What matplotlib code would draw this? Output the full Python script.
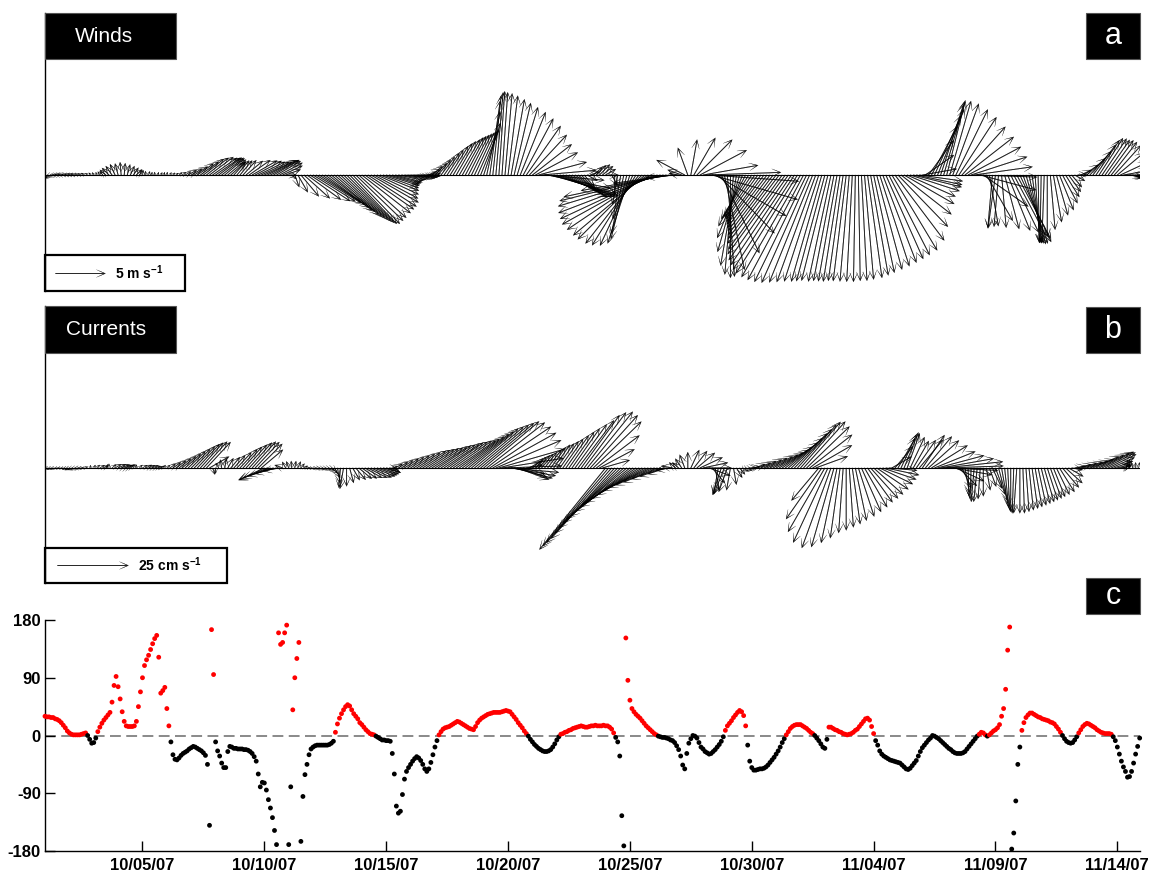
import numpy as np
import matplotlib
matplotlib.use('Agg')
import matplotlib.pyplot as plt
from matplotlib.patches import Rectangle

plt.rcParams['font.family'] = ['Liberation Sans', 'DejaVu Sans']
plt.rcParams['mathtext.fontset'] = 'custom'
plt.rcParams['mathtext.rm'] = 'Liberation Sans'
plt.rcParams['mathtext.bf'] = 'Liberation Sans:bold'

# ---------------- data (3-hourly vectors from 10/01/07 00:00) ----------------
# wind speed (m/s), one row per day (8 values, every 3 h)
wind_speed = [
    0.8, 0.8, 0.7, 0.6, 0.6, 0.6, 0.6, 0.5,
    0.5, 0.5, 0.5, 0.4, 0.4, 0.4, 0.3, 0.3,
    0.3, 0.3, 0.4, 0.5, 0.8, 1.0, 1.1, 1.2,
    1.2, 1.3, 1.2, 1.1, 1.0, 0.9, 0.8, 0.6,
    0.5, 0.4, 0.4, 0.3, 0.3, 0.3, 0.3, 0.3,
    0.3, 0.3, 0.3, 0.3, 0.4, 0.5, 0.7, 1.0,
    1.3, 1.6, 2.0, 2.3, 2.6, 2.8, 3.0, 3.0,
    3.0, 2.9, 2.8, 2.6, 2.4, 2.0, 1.8, 1.9,
    1.9, 2.0, 2.2, 2.6, 2.9, 3.0, 3.0, 3.1,
    3.1, 3.2, 3.2, 3.0, 2.8, 2.6, 2.2, 1.6,
    0.8, 0.6, 1.3, 2.0, 2.8, 3.5, 4.2, 4.8,
    5.0, 5.3, 5.5, 5.7, 5.9, 6.0, 6.2, 6.3,
    6.4, 6.5, 6.6, 6.7, 6.8, 6.8, 6.6, 6.4,
    6.2, 6.0, 5.8, 5.5, 5.0, 4.6, 4.2, 3.8,
    3.5, 3.2, 3.0, 2.8, 2.6, 2.5, 2.4, 2.3,
    2.3, 2.2, 2.1, 2.0, 1.8, 1.5, 1.3, 1.4,
    1.7, 2.0, 2.3, 2.7, 3.0, 3.4, 3.7, 3.9,
    4.1, 4.3, 4.4, 4.5, 4.6, 4.7, 4.8, 4.9,
    5.5, 6.5, 7.5, 8.0, 8.3, 8.4, 8.3, 8.2,
    8.0, 7.7, 7.4, 7.1, 6.8, 6.4, 6.0, 5.5,
    5.0, 4.8, 5.0, 5.5, 6.0, 6.5, 6.8, 6.8,
    6.2, 5.7, 5.2, 4.7, 4.1, 3.5, 3.0, 2.5,
    2.0, 1.6, 1.2, 1.0, 1.2, 1.4, 1.5, 1.4,
    1.2, 1.0, 1.2, 2.0, 3.0, 4.5, 6.0, 6.6,
    7.2, 7.8, 8.3, 8.7, 9.1, 9.4, 9.8, 10.2,
    10.4, 10.6, 10.7, 10.7, 10.5, 9.0, 6.0, 3.0,
    1.0, 1.5, 3.2, 2.9, 3.6, 4.3, 5.0, 5.3,
    5.6, 7.5, 9.0, 8.9, 8.2, 8.1, 8.7, 9.7,
    10.2, 10.3, 10.0, 9.2, 8.0, 6.8, 5.8, 5.2,
    5.0, 5.2, 5.5, 5.8, 6.2, 6.6, 7.0, 7.5,
    8.0, 8.6, 9.2, 9.8, 10.4, 10.9, 11.3, 11.6,
    11.8, 11.9, 11.9, 11.8, 11.6, 11.4, 11.2, 11.1,
    11.0, 10.9, 10.9, 10.8, 10.8, 10.8, 10.7, 10.7,
    10.7, 10.7, 10.7, 10.6, 10.6, 10.5, 10.4, 10.2,
    10.0, 9.8, 9.6, 9.4, 9.2, 9.0, 8.8, 8.2,
    7.2, 6.4, 5.8, 5.3, 5.2, 5.0, 4.7, 4.4,
    3.5, 3.5, 4.3, 5.5, 6.5, 7.1, 7.4, 7.6,
    7.7, 7.7, 7.6, 7.3, 6.9, 6.5, 6.2, 6.0,
    5.9, 5.9, 6.0, 5.8, 5.5, 5.3, 5.2, 5.3,
    5.4, 5.2, 5.3, 5.6, 6.0, 6.4, 6.8, 7.2,
    7.4, 7.3, 7.2, 7.0, 6.9, 6.8, 6.8, 6.8,
    6.8, 6.2, 5.5, 4.8, 4.2, 3.8, 3.2, 2.6,
    2.1, 1.6, 1.2, 1.0, 1.2, 1.8, 2.5, 3.2,
    3.8, 4.2, 4.4, 4.4, 4.3, 4.3, 4.2, 4.0,
    3.5, 3.0, 2.5, 2.0, 1.5, 1.0, 0.6, 0.5,
]
# wind direction the arrow points to (deg, counter-clockwise from east)
wind_dir = [
    220, 215, 205, 190, 180, 175, 170, 170,
    170, 165, 165, 160, 160, 150, 140, 130,
    120, 110, 120, 130, 140, 135, 125, 115,
    105, 95, 85, 75, 65, 55, 45, 60,
    80, 90, 70, 80, 90, 70, 60, 70,
    80, 60, 50, 40, 40, 35, 30, 30,
    30, 32, 35, 36, 38, 38, 37, 35,
    35, 37, 38, 40, 40, 42, 48, 50,
    50, 48, 40, 35, 30, 28, 26, 25,
    25, 27, 28, 30, 30, 28, 25, 20,
    0, -40, -70, -60, -50, -42, -36, -33,
    -32, -32, -33, -35, -37, -38, -40, -41,
    -42, -43, -44, -45, -46, -46, -44, -42,
    -38, -35, -33, -30, -28, -25, -22, -20,
    -18, -17, -16, -15, -12, -10, -8, -7,
    -6, -6, -5, -4, -3, 5, 25, 40,
    45, 50, 53, 55, 57, 58, 59, 60,
    60, 61, 62, 63, 64, 65, 66, 68,
    72, 78, 82, 84, 85, 86, 86, 85,
    83, 80, 77, 73, 68, 62, 55, 47,
    38, 28, 15, 5, -5, -12, -16, -18,
    -20, -22, -25, -28, -30, -32, -35, -40,
    -45, -50, -30, 20, 40, 45, 45, 40,
    30, 0, -60, -90, -100, -100, -102, -104,
    -108, -115, -122, -128, -135, -140, -146, -151,
    -155, -159, -163, -166, -168, -170, -172, -175,
    170, 160, 152, 110, 80, 60, 45, 28,
    10, 2, -4, -16, -30, -46, -64, -78,
    -86, -90, -95, -100, -106, -112, -118, -122,
    -124, -125, -126, -126, -127, -127, -127, -127,
    -127, -127, -126, -126, -125, -124, -123, -122,
    -120, -118, -116, -114, -112, -110, -108, -106,
    -105, -104, -102, -101, -100, -99, -98, -97,
    -95, -93, -91, -89, -87, -85, -82, -80,
    -78, -75, -72, -69, -66, -63, -59, -53,
    -46, -38, -30, -24, -18, -14, -12, -8,
    10, 35, 54, 62, 66, 68, 72, 74,
    76, 74, 70, 64, 57, 48, 38, 28,
    18, 8, -2, -15, -35, -60, -80, -95,
    -98, -95, -85, -75, -68, -64, -62, -62,
    -65, -70, -74, -78, -82, -86, -89, -91,
    -92, -90, -85, -80, -74, -68, -62, -58,
    -54, -50, -30, 0, 25, 35, 42, 48,
    53, 56, 57, 56, 55, 54, 52, 48,
    40, 25, 10, 0, -10, -20, -30, -40,
]
# current speed (cm/s), one row per day (8 values, every 3 h)
curr_speed = [
    1.5, 1.5, 1.5, 1.5, 1.2, 1.2, 1.2, 1.5,
    1.8, 2.0, 2.0, 1.8, 1.5, 1.2, 1.0, 1.0,
    1.2, 1.5, 2.0, 2.0, 1.5, 1.5, 2.0, 2.5,
    3.0, 3.2, 3.0, 2.5, 2.0, 1.5, 1.2, 1.5,
    2.0, 2.5, 2.5, 2.5, 2.2, 1.8, 1.5, 1.2,
    1.5, 2.5, 3.5, 4.5, 5.5, 6.5, 7.5, 8.5,
    9.5, 10.5, 11.5, 12.0, 12.5, 12.5, 8.0, 2.5,
    2.0, 2.0, 3.0, 3.5, 4.0, 5.0, 6.0, 7.5,
    9.0, 10.0, 11.0, 12.0, 12.5, 12.5, 12.0, 10.0,
    10.0, 11.0, 10.5, 9.5, 8.0, 6.0, 3.0, 2.5,
    2.5, 2.5, 2.5, 2.5, 2.0, 1.5, 1.2, 1.2,
    1.5, 1.8, 2.0, 2.0, 2.2, 2.5, 3.0, 4.0,
    5.5, 7.0, 7.5, 6.5, 5.5, 5.0, 5.5, 6.0,
    6.5, 7.0, 7.5, 8.0, 8.0, 7.5, 7.0, 6.5,
    5.0, 3.0, 2.0, 3.0, 4.0, 5.0, 6.0, 7.0,
    8.0, 9.0, 10.0, 11.0, 11.5, 12.0, 12.5, 13.0,
    13.5, 14.0, 14.5, 15.0, 15.5, 16.0, 16.5, 17.0,
    17.5, 18.5, 19.5, 20.5, 21.5, 22.5, 23.5, 24.5,
    25.5, 26.0, 26.0, 25.5, 25.0, 24.0, 22.0, 20.0,
    18.0, 16.0, 14.0, 12.0, 10.0, 8.0, 6.0, 5.0,
    5.0, 5.5, 6.0, 6.5, 7.0, 8.0, 9.0, 10.0,
    10.5, 11.5, 12.5, 14.0, 15.5, 17.0, 19.0, 21.0,
    23.0, 24.5, 25.5, 25.0, 23.5, 19.0, 14.0, 10.0,
    37.0, 36.0, 35.0, 33.5, 32.0, 30.5, 29.0, 28.0,
    27.0, 25.5, 24.0, 22.5, 21.0, 19.5, 18.0, 16.5,
    15.0, 13.0, 11.0, 9.0, 7.0, 5.0, 4.0, 3.0,
    3.0, 4.0, 5.0, 5.6, 7.0, 7.6, 8.3, 8.8,
    9.0, 9.0, 8.0, 7.0, 8.0, 9.5, 10.0, 10.0,
    9.0, 8.0, 6.0, 4.0, 3.0, 2.5, 2.5, 3.0,
    3.0, 4.0, 5.0, 6.0, 7.0, 8.0, 9.0, 10.0,
    11.0, 12.0, 13.0, 14.5, 16.0, 17.5, 19.0, 20.5,
    21.5, 22.0, 21.0, 19.0, 16.0, 12.0, 15.0, 22.0,
    26.0, 29.0, 30.0, 29.0, 27.0, 25.0, 23.0, 22.0,
    21.0, 20.0, 19.0, 18.0, 17.0, 16.0, 15.0, 14.5,
    14.0, 13.5, 13.0, 12.5, 12.0, 10.0, 8.0, 10.0,
    12.0, 13.0, 13.5, 13.0, 12.0, 11.0, 12.0, 13.0,
    14.0, 14.5, 14.5, 15.0, 15.5, 17.0, 19.0, 21.0,
    20.0, 17.0, 14.0, 11.0, 9.0, 8.0, 9.0, 10.0,
    11.0, 12.0, 12.0, 11.0, 10.0, 8.0, 7.0, 8.0,
    10.0, 12.0, 13.0, 14.0, 15.0, 15.5, 16.0, 16.0,
    16.0, 16.0, 15.5, 15.0, 14.5, 14.0, 13.5, 13.0,
    12.5, 12.0, 11.5, 11.0, 10.5, 10.0, 9.0, 8.0,
    6.0, 4.0, 4.0, 5.0, 6.0, 7.0, 8.0, 9.0,
    10.0, 11.0, 12.0, 12.5, 12.0, 11.0, 9.0, 7.0,
    5.0, 4.0, 3.0, 3.0, 3.0, 2.0, 2.0, 2.0,
]
curr_dir = [
    190, 195, 200, 195, 190, 185, 190, 200,
    205, 200, 195, 190, 185, 180, 150, 100,
    60, 45, 30, 20, 60, 90, 40, 30,
    25, 22, 20, 25, 40, 60, 90, 45,
    30, 25, 22, 20, 18, 15, 30, 60,
    40, 35, 35, 36, 38, 40, 42, 44,
    45, 46, 47, 48, 48, 47, 30, -70,
    -90, 120, 100, 80, 60, 50, 48, 47,
    47, 48, 48, 48, 48, 47, 45, 40,
    205, 203, 200, 198, 195, 190, 160, 120,
    110, 95, 80, 65, 50, 30, 0, -10,
    -10, -10, -15, -15, -15, -20, -40, -60,
    -80, -95, -100, -90, -75, -60, -50, -40,
    -35, -30, -27, -25, -22, -20, -18, -15,
    -15, -10, 20, 30, 32, 33, 33, 33,
    33, 33, 33, 33, 33, 33, 33, 33,
    33, 34, 34, 34, 35, 35, 35, 35,
    36, 37, 38, 39, 40, 40, 40, 40,
    40, 38, 34, 29, 23, 16, 9, 2,
    -5, -10, -15, -20, -20, -15, 10, 30,
    40, 45, 48, 50, 52, 53, 54, 55,
    55, 55, 55, 55, 55, 55, 54, 53,
    54, 53, 51, 48, 44, 37, 28, 16,
    231, 230, 229, 228, 226, 224, 222, 220,
    219, 217, 215, 213, 211, 209, 207, 205,
    204, 203, 201, 200, 198, 190, 170, 140,
    140, 125, 111, 90, 65, 52, 40, 25,
    12, 0, -20, -50, -80, -100, -108, -112,
    -110, -100, -80, -60, -50, -30, -20, 0,
    10, 20, 22, 24, 25, 26, 27, 28,
    30, 32, 35, 38, 41, 44, 46, 48,
    49, 48, 44, 38, 30, 20, 230, 235,
    240, 245, 250, 254, 258, 262, 266, 270,
    274, 278, 282, 288, 294, 300, 306, 312,
    318, 326, 334, 341, 348, 355, 30, 50,
    60, 65, 68, 70, 65, 60, 55, 50,
    56, 50, 42, 32, 22, 15, 10, 6,
    2, -3, -10, -25, -45, -65, -80, -88,
    -92, -95, -96, -94, -90, -80, -70, -65,
    -70, -75, -80, -84, -87, -90, -92, -94,
    -90, -88, -86, -84, -82, -80, -78, -76,
    -74, -72, -70, -68, -64, -58, -50, -42,
    -30, -10, 10, 15, 17, 18, 19, 20,
    24, 25, 26, 27, 27, 26, 24, 20,
    15, 10, 20, 80, 90, 100, 90, 80,
]
# panel c: angle (deg), every 2 h, one row per day (12 values)
angle = [
    30, 29, 29, 28, 28, 26, 25, 23, 20, 16, 12, 7,
    4, 2, 1, 1, 1, 1, 2, 3, 4, 0, -6, -12,
    -11, -4, 6, 13, 19, 24, 28, 32, 36, 52, 78, 92,
    76, 57, 37, 22, 15, 14, 14, 14, 15, 22, 45, 68,
    90, 109, 118, 125, 134, 143, 151, 156, 122, 66, 70, 75,
    42, 15, -10, -30, -37, -38, -35, -31, -28, -26, -24, -21,
    -19, -17, -18, -20, -22, -24, -27, -31, -45, -140, 165, 95,
    -10, -24, -32, -43, -50, -50, -25, -17, -18, -20, -20, -21,
    -21, -21, -22, -22, -23, -25, -28, -33, -40, -60, -80, -73,
    -74, -85, -100, -113, -128, -148, -170, 160, 142, 145, 160, 172,
    -170, -80, 40, 90, 120, 145, -165, -95, -61, -45, -30, -21,
    -18, -16, -15, -15, -15, -15, -15, -15, -14, -12, -9, 5,
    18, 27, 34, 40, 45, 48, 46, 40, 34, 30, 26, 20,
    17, 13, 9, 6, 3, 2, 1, -1, -3, -5, -7, -7,
    -8, -8, -9, -28, -60, -110, -121, -118, -92, -68, -56, -50,
    -45, -40, -36, -33, -35, -39, -45, -52, -56, -52, -42, -30,
    -18, -8, 1, 6, 10, 12, 13, 14, 16, 18, 20, 22,
    21, 19, 17, 15, 13, 11, 10, 9, 14, 20, 24, 27,
    29, 31, 33, 34, 35, 36, 36, 36, 36, 37, 38, 39,
    38, 37, 33, 29, 25, 20, 16, 12, 7, 3, -1, -6,
    -10, -14, -17, -20, -22, -24, -25, -25, -24, -22, -18, -13,
    -7, -2, 2, 3, 5, 6, 8, 9, 11, 12, 13, 14,
    15, 14, 13, 13, 14, 15, 15, 16, 15, 15, 15, 16,
    15, 15, 13, 10, 4, -3, -10, -32, -125, -172, 152, 86,
    55, 42, 37, 33, 30, 27, 23, 19, 15, 12, 9, 6,
    3, 1, -1, -2, -3, -3, -4, -5, -7, -8, -11, -16,
    -22, -32, -46, -52, -28, -12, -5, 0, -1, -4, -11, -18,
    -21, -25, -27, -29, -28, -25, -22, -18, -14, -9, -2, 8,
    15, 19, 23, 28, 32, 36, 39, 37, 31, 15, -15, -40,
    -50, -54, -54, -53, -52, -52, -51, -49, -46, -42, -38, -34,
    -29, -24, -18, -11, -5, 1, 6, 11, 14, 16, 17, 17,
    17, 15, 13, 11, 8, 5, 3, 0, -4, -8, -13, -18,
    -20, -6, 13, 13, 11, 9, 8, 6, 5, 3, 2, 1,
    2, 3, 5, 8, 10, 14, 18, 22, 26, 27, 24, 14,
    3, -8, -15, -24, -29, -32, -34, -36, -38, -39, -40, -41,
    -42, -43, -46, -49, -52, -53, -51, -47, -43, -39, -32, -25,
    -19, -15, -11, -7, -4, 0, -1, -3, -5, -8, -11, -14,
    -17, -20, -22, -25, -27, -28, -28, -28, -27, -25, -21, -17,
    -13, -9, -5, -1, 2, 5, 4, 1, -1, 1, 4, 7,
    9, 12, 17, 30, 42, 72, 133, 169, -177, -152, -102, -45,
    -18, 8, 20, 28, 32, 35, 35, 33, 31, 29, 28, 26,
    25, 24, 23, 21, 20, 18, 14, 10, 5, 0, -5, -9,
    -11, -12, -11, -7, -2, 4, 9, 14, 17, 19, 18, 16,
    14, 12, 9, 7, 5, 4, 3, 3, 3, 2, -2, -8,
    -18, -29, -40, -49, -56, -65, -64, -56, -43, -29, -17, -4,
]
tick_days = [4, 9, 14, 19, 24, 29, 34, 39, 44]
tick_labels = ['10/05/07', '10/10/07', '10/15/07', '10/20/07', '10/25/07',
               '10/30/07', '11/04/07', '11/09/07', '11/14/07']
angle_ticks = [-180, -90, 0, 90, 180]
angle_ticklabels = ['-180', '-90', '0', '90', '180']

t_vec = np.arange(len(wind_speed)) * 3.0 / 24.0   # days since 10/01/07
t_ang = np.arange(len(angle)) * 2.0 / 24.0
T_END = 44.93

# ---------------- figure ----------------
W, H = 1153, 876
fig = plt.figure(figsize=(W / 100, H / 100), dpi=100)


def ax_px(x0, y0, x1, y1):
    return fig.add_axes([x0 / W, 1 - y1 / H, (x1 - x0) / W, (y1 - y0) / H])


def box_px(x0, y0, x1, y1, text, tx, ha, size):
    fig.patches.append(Rectangle((x0 / W, 1 - y1 / H), (x1 - x0) / W, (y1 - y0) / H,
                                 transform=fig.transFigure, facecolor='black',
                                 edgecolor='#555555', lw=0.8, zorder=10))
    fig.text(tx / W, 1 - (y0 + y1) / 2 / H, text, color='white', ha=ha, va='center',
             fontsize=size, zorder=11)


def stick_axes(ax, ylim):
    ax.set_xlim(0, T_END)
    ax.set_ylim(*ylim)
    for s in ['top', 'right', 'bottom']:
        ax.spines[s].set_visible(False)
    ax.spines['left'].set_linewidth(1.0)
    ax.set_xticks([])
    ax.set_yticks([])
    ax.patch.set_alpha(0)
    ax.axhline(0, color='black', lw=0.8, zorder=2)


qkw = dict(angles='uv', scale_units='y', scale=1, units='dots', width=0.7,
           headwidth=11, headlength=13, headaxislength=2.5, color='black',
           edgecolor='black', linewidth=0.15, zorder=3)

# panel a: winds
axa = ax_px(45, 13, 1140, 291)
stick_axes(axa, (-11.6, 16.2))
ws = np.array(wind_speed)
wd = np.deg2rad(np.array(wind_dir))
qa = axa.quiver(t_vec, np.zeros_like(t_vec), ws * np.cos(wd), ws * np.sin(wd), **qkw)
axa.add_patch(Rectangle((0, 0), 140 / 1095, 36 / 278, transform=axa.transAxes,
                        facecolor='white', edgecolor='black', lw=1.6, clip_on=False, zorder=1))
axa.quiverkey(qa, (105 - 45) / 1095, (291 - 273) / 278, 5, r'5 m s$^{\mathbf{-1}}$',
              labelpos='E', coordinates='axes', labelsep=0.1,
              fontproperties={'weight': 'bold', 'size': 10})

# panel b: currents
axb = ax_px(45, 306, 1140, 583)
stick_axes(axb, (-40.5, 57.0))
cs = np.array(curr_speed)
cd = np.deg2rad(np.array(curr_dir))
qb = axb.quiver(t_vec, np.zeros_like(t_vec), cs * np.cos(cd), cs * np.sin(cd), **qkw)
axb.add_patch(Rectangle((0, 0), 182 / 1095, 35 / 277, transform=axb.transAxes,
                        facecolor='white', edgecolor='black', lw=1.6, clip_on=False, zorder=1))
axb.quiverkey(qb, (128 - 45) / 1095, (583 - 565) / 277, 25, r'25 cm s$^{\mathbf{-1}}$',
              labelpos='E', coordinates='axes', labelsep=0.1,
              fontproperties={'weight': 'bold', 'size': 10})

# panel c: angle
axc = ax_px(45, 620, 1140, 851)
axc.set_xlim(0, T_END)
axc.set_ylim(-180, 180)
ang = np.array(angle)
cols = np.where(ang > 0, '#ff0000', '#000000')
axc.axhline(0, color='#808080', lw=1.3, ls=(0, (6, 3)), zorder=1)
axc.scatter(t_ang, ang, s=12, c=cols, linewidths=0, zorder=3, clip_on=False)
for s in ['top', 'right']:
    axc.spines[s].set_visible(False)
for s in ['left', 'bottom']:
    axc.spines[s].set_linewidth(1.0)
axc.set_yticks(angle_ticks)
axc.set_yticklabels(angle_ticklabels, fontweight='bold', fontsize=12)
axc.set_xticks(tick_days)
axc.set_xticklabels(tick_labels, fontweight='bold', fontsize=12)
axc.tick_params(axis='both', direction='in', length=7, width=1.0)
axc.tick_params(axis='y', pad=3)
axc.tick_params(axis='x', pad=5)

# label boxes
box_px(45, 13, 176, 59, 'Winds', 75, 'left', 15)
box_px(1086, 13, 1140, 59, 'a', 1113, 'center', 22)
box_px(45, 306, 176, 353, 'Currents', 66, 'left', 15)
box_px(1086, 307, 1140, 353, 'b', 1113, 'center', 22)
box_px(1086, 578, 1140, 614, 'c', 1113, 'center', 22)

fig.savefig('out.png', dpi=100)
